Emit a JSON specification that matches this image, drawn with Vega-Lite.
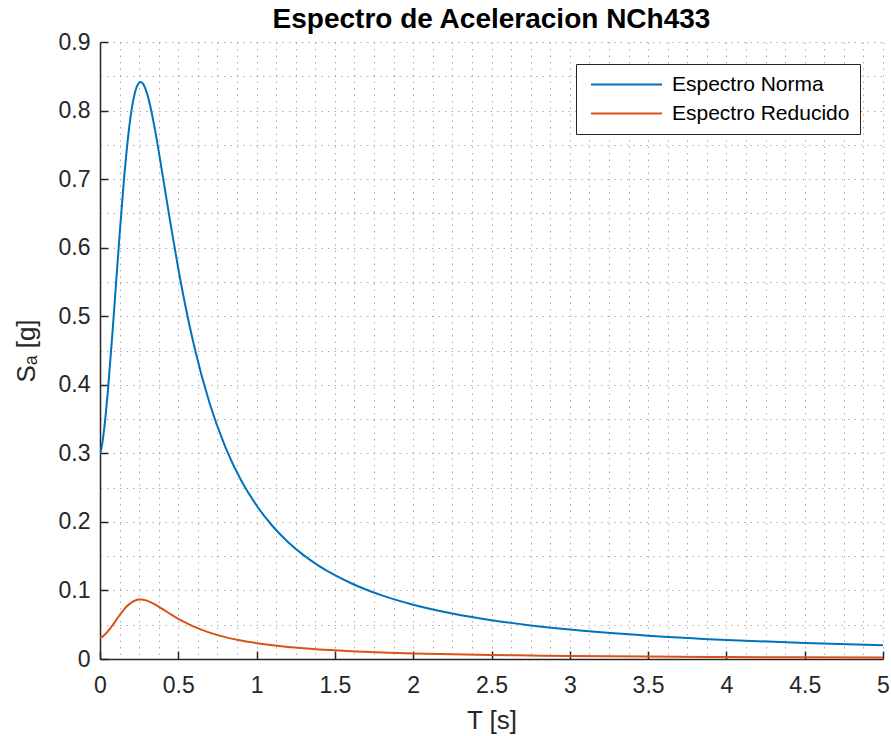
{
  "$schema": "https://vega.github.io/schema/vega-lite/v6.json",
  "width": 783,
  "height": 617,
  "autosize": {"type": "none"},
  "padding": {"left": 100, "top": 42, "right": 8, "bottom": 77},
  "background": "white",
  "title": {"text": "Espectro de Aceleracion NCh433", "font": "Liberation Sans", "fontSize": 28, "fontWeight": "bold", "color": "#000000", "offset": -3, "anchor": "middle"},
  "data": {"values": [
    {"T": 0, "Espectro Norma": 0.3, "Espectro Reducido": 0.0309},
    {"T": 0.01, "Espectro Norma": 0.3082, "Espectro Reducido": 0.0318},
    {"T": 0.02, "Espectro Norma": 0.3232, "Espectro Reducido": 0.0333},
    {"T": 0.035, "Espectro Norma": 0.3532, "Espectro Reducido": 0.0364},
    {"T": 0.05, "Espectro Norma": 0.3901, "Espectro Reducido": 0.0402},
    {"T": 0.08, "Espectro Norma": 0.4769, "Espectro Reducido": 0.0492},
    {"T": 0.1, "Espectro Norma": 0.5398, "Espectro Reducido": 0.0557},
    {"T": 0.125, "Espectro Norma": 0.6184, "Espectro Reducido": 0.0638},
    {"T": 0.15, "Espectro Norma": 0.6909, "Espectro Reducido": 0.0712},
    {"T": 0.175, "Espectro Norma": 0.7522, "Espectro Reducido": 0.0776},
    {"T": 0.2, "Espectro Norma": 0.7983, "Espectro Reducido": 0.0823},
    {"T": 0.225, "Espectro Norma": 0.8277, "Espectro Reducido": 0.0853},
    {"T": 0.25, "Espectro Norma": 0.8406, "Espectro Reducido": 0.0867},
    {"T": 0.26, "Espectro Norma": 0.8415, "Espectro Reducido": 0.0868},
    {"T": 0.275, "Espectro Norma": 0.8388, "Espectro Reducido": 0.0865},
    {"T": 0.3, "Espectro Norma": 0.825, "Espectro Reducido": 0.0851},
    {"T": 0.325, "Espectro Norma": 0.8022, "Espectro Reducido": 0.0827},
    {"T": 0.35, "Espectro Norma": 0.7733, "Espectro Reducido": 0.0797},
    {"T": 0.4, "Espectro Norma": 0.7057, "Espectro Reducido": 0.0728},
    {"T": 0.45, "Espectro Norma": 0.6355, "Espectro Reducido": 0.0655},
    {"T": 0.5, "Espectro Norma": 0.5693, "Espectro Reducido": 0.0587},
    {"T": 0.55, "Espectro Norma": 0.5098, "Espectro Reducido": 0.0526},
    {"T": 0.6, "Espectro Norma": 0.4576, "Espectro Reducido": 0.0472},
    {"T": 0.7, "Espectro Norma": 0.373, "Espectro Reducido": 0.0385},
    {"T": 0.8, "Espectro Norma": 0.3095, "Espectro Reducido": 0.0319},
    {"T": 0.9, "Espectro Norma": 0.2612, "Espectro Reducido": 0.0269},
    {"T": 1.0, "Espectro Norma": 0.2239, "Espectro Reducido": 0.0231},
    {"T": 1.1, "Espectro Norma": 0.1944, "Espectro Reducido": 0.02},
    {"T": 1.2, "Espectro Norma": 0.1708, "Espectro Reducido": 0.0176},
    {"T": 1.3, "Espectro Norma": 0.1515, "Espectro Reducido": 0.0156},
    {"T": 1.4, "Espectro Norma": 0.1355, "Espectro Reducido": 0.014},
    {"T": 1.5, "Espectro Norma": 0.1222, "Espectro Reducido": 0.0126},
    {"T": 1.6, "Espectro Norma": 0.1109, "Espectro Reducido": 0.0114},
    {"T": 1.8, "Espectro Norma": 0.0928, "Espectro Reducido": 0.0096},
    {"T": 2.0, "Espectro Norma": 0.0792, "Espectro Reducido": 0.0082},
    {"T": 2.25, "Espectro Norma": 0.0663, "Espectro Reducido": 0.0068},
    {"T": 2.5, "Espectro Norma": 0.0565, "Espectro Reducido": 0.0058},
    {"T": 2.75, "Espectro Norma": 0.049, "Espectro Reducido": 0.0051},
    {"T": 3.0, "Espectro Norma": 0.0429, "Espectro Reducido": 0.0044},
    {"T": 3.5, "Espectro Norma": 0.034, "Espectro Reducido": 0.0035},
    {"T": 4.0, "Espectro Norma": 0.0278, "Espectro Reducido": 0.0029},
    {"T": 4.5, "Espectro Norma": 0.0233, "Espectro Reducido": 0.0024},
    {"T": 5.0, "Espectro Norma": 0.0199, "Espectro Reducido": 0.0021}
  ]},
  "transform": [{"fold": ["Espectro Norma", "Espectro Reducido"], "as": ["serie", "Sa"]}],
  "mark": {"type": "line", "strokeWidth": 2, "interpolate": "monotone", "clip": true},
  "encoding": {
    "x": {
      "field": "T", "type": "quantitative",
      "scale": {"domain": [0, 5], "nice": false, "zero": false},
      "axis": {
        "title": "T [s]",
        "values": [0,0.125,0.25,0.375,0.5,0.625,0.75,0.875,1,1.125,1.25,1.375,1.5,1.625,1.75,1.875,2,2.125,2.25,2.375,2.5,2.625,2.75,2.875,3,3.125,3.25,3.375,3.5,3.625,3.75,3.875,4,4.125,4.25,4.375,4.5,4.625,4.75,4.875,5],
        "labelExpr": "abs(datum.value*2 - round(datum.value*2)) < 1e-6 ? format(datum.value, '~g') : ''",
        "tickOpacity": {"condition": {"test": "abs(datum.value*2 - round(datum.value*2)) < 1e-6", "value": 1}, "value": 0},
        "labelPadding": 23,
        "titlePadding": 10
      }
    },
    "y": {
      "field": "Sa", "type": "quantitative",
      "scale": {"domain": [0, 0.9], "nice": false},
      "axis": {
        "title": "Sₐ [g]",
        "values": [0,0.05,0.1,0.15,0.2,0.25,0.3,0.35,0.4,0.45,0.5,0.55,0.6,0.65,0.7,0.75,0.8,0.85,0.9],
        "labelExpr": "abs(datum.value*10 - round(datum.value*10)) < 1e-6 ? format(datum.value, '~g') : ''",
        "tickOpacity": {"condition": {"test": "abs(datum.value*10 - round(datum.value*10)) < 1e-6", "value": 1}, "value": 0},
        "labelPadding": 18,
        "titlePadding": 19
      }
    },
    "color": {
      "field": "serie", "type": "nominal",
      "scale": {"domain": ["Espectro Norma", "Espectro Reducido"], "range": ["#0072BD", "#D95319"]},
      "legend": {
        "title": null, "orient": "none", "legendX": 476, "legendY": 22,
        "strokeColor": "#262626", "fillColor": "white", "padding": 10,
        "symbolType": "stroke", "symbolSize": 5041, "symbolStrokeWidth": 2, "symbolOffset": 4,
        "clipHeight": 21,
        "labelFont": "Liberation Sans", "labelFontSize": 21, "labelColor": "#000000", "labelOffset": 9, "labelLimit": 0,
        "rowPadding": 7
      }
    }
  },
  "config": {
    "view": {"stroke": null},
    "axis": {
      "domainColor": "#262626", "domainWidth": 1.5,
      "tickColor": "#262626", "tickWidth": 1.5, "tickSize": -8,
      "labelFont": "Liberation Sans", "labelFontSize": 23, "labelColor": "#262626", "labelFlush": false,
      "titleFont": "Liberation Sans", "titleFontSize": 26, "titleFontWeight": "normal", "titleColor": "#262626",
      "grid": true, "gridColor": "#9a9a9a", "gridDash": [1.5, 5], "gridWidth": 1, "gridOpacity": 0.8
    }
  }
}
